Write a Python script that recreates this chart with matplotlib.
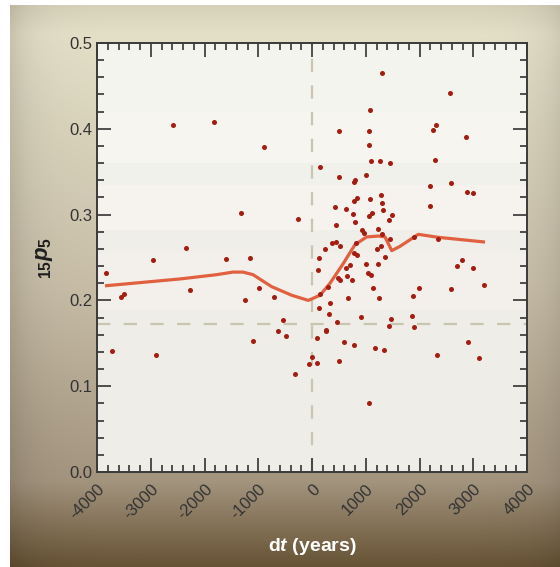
import numpy as np
import matplotlib
matplotlib.use('Agg')
import matplotlib.pyplot as plt
from matplotlib.ticker import MultipleLocator

plt.rcParams['font.family'] = ['Liberation Sans', 'DejaVu Sans']
plt.rcParams['axes.unicode_minus'] = False
plt.rcParams['mathtext.fontset'] = 'custom'
plt.rcParams['mathtext.rm'] = 'Liberation Sans'
plt.rcParams['mathtext.it'] = 'Liberation Sans:italic'
plt.rcParams['mathtext.bf'] = 'Liberation Sans:bold'
plt.rcParams['mathtext.bfit'] = 'Liberation Sans:italic:bold'

# scatter points: dt (years), 15p5
dt = [1302, 1079, 497, 1055, 1060, 1098, 1271, 1446, 149, 497,
      999, 806, 781, 1278, 832, 1085, 781, 422, 633, 1297,
      757, 1315, 1116, 1060, 1494, 1433, 794, 452, 1222, 925,
      973, 1308, 1457, 367, 447, 819, 515, 1284, 1215, 247,
      1898, 781, 843, 1358, 130, 999, 1222, 713, 627, 106,
      1042, 1103, 489, 527, 651, 750, 292, 1140, 1994, 154,
      679, 1241, 1875, 339, 125, 311, 460, 906, 1470, 1433,
      1866, 1903, 266, 266, 99, 595, 787, 1172, 1345, 4,
      -61, 93, 502, 1055,
      2567, 2246, 2307, 2865, 2283, 2590, 2201, 2889, 2995, 2192,
      2348, 2796, 2692, 2995, 2588, 3200, 2902, 2329, 3101,
      -266, -534, -489, -638, -307, -2586, -1818, -887, -1321, -2350,
      -2958, -1606, -1150, -3827, -3548, -3492, -2275, -1252, -982, -716,
      -3721, -2897, -1098]
p = [0.465, 0.422, 0.398, 0.398, 0.381, 0.362, 0.363, 0.360, 0.356, 0.344,
     0.346, 0.340, 0.338, 0.323, 0.319, 0.318, 0.316, 0.309, 0.307, 0.313,
     0.301, 0.305, 0.302, 0.298, 0.299, 0.294, 0.291, 0.288, 0.283, 0.282,
     0.278, 0.277, 0.271, 0.267, 0.268, 0.267, 0.263, 0.263, 0.260, 0.260,
     0.274, 0.255, 0.253, 0.251, 0.249, 0.243, 0.242, 0.241, 0.238, 0.235,
     0.232, 0.230, 0.226, 0.224, 0.228, 0.224, 0.216, 0.215, 0.214, 0.207,
     0.203, 0.203, 0.205, 0.197, 0.191, 0.184, 0.175, 0.181, 0.178, 0.170,
     0.182, 0.169, 0.166, 0.164, 0.156, 0.152, 0.148, 0.144, 0.142, 0.134,
     0.126, 0.127, 0.129, 0.081,
     0.442, 0.399, 0.405, 0.390, 0.364, 0.337, 0.333, 0.326, 0.325, 0.310,
     0.271, 0.247, 0.240, 0.238, 0.213, 0.218, 0.151, 0.136, 0.133,
     0.295, 0.177, 0.158, 0.164, 0.114, 0.404, 0.408, 0.379, 0.302, 0.261,
     0.247, 0.248, 0.249, 0.232, 0.204, 0.207, 0.212, 0.200, 0.215, 0.204,
     0.141, 0.136, 0.153]

# smoothed trend line
trend_x = [-3851, -2456, -1773, -1470, -1284, -1098, -750, -378, -69, 149,
           335, 582, 800, 1018, 1234, 1358, 1483, 1637, 1978, 2350, 3219]
trend_y = [0.217, 0.225, 0.230, 0.233, 0.233, 0.230, 0.216, 0.206, 0.200, 0.206,
           0.220, 0.243, 0.265, 0.274, 0.275, 0.274, 0.258, 0.263, 0.277, 0.2735, 0.268]

ref_p = 0.173

W, H = 560, 567
fig = plt.figure(figsize=(W / 100, H / 100), dpi=100)

# gradient frame behind the chart
bg = fig.add_axes([0, 0, 1, 1], zorder=-10)
rows = np.linspace(0, 1, H)
stops_t = [0.0, 0.06, 0.5, 0.85, 1.0]
stops_c = np.array([[212, 206, 182], [228, 224, 200], [200, 190, 168],
                    [163, 148, 126], [102, 82, 52]], dtype=float)
col = np.stack([np.interp(rows, stops_t, stops_c[:, k]) for k in range(3)], axis=1)
xs = np.arange(W)
shade = 1 - 0.13 * np.exp(-(xs - 10) / 22.0) - 0.10 * np.exp(-(W - xs) / 22.0)
img = col[:, None, :] * shade[None, :, None]
img = np.clip(img, 0, 255) / 255.0
img[:5, :, :] = 1.0
img[:, :10, :] = 1.0
bg.imshow(img, aspect='auto', extent=[0, 1, 0, 1])
bg.axis('off')

ax = fig.add_axes([97 / W, 1 - 472 / H, 430 / W, 429 / H])
ax.set_facecolor('#f1efea')
bands = [(0.42, 0.5, '#f4f4ee'), (0.36, 0.42, '#f6f5f0'), (0.335, 0.36, '#f1f1eb'),
         (0.282, 0.335, '#f6f2ee'), (0.255, 0.282, '#efeee8'), (0.19, 0.255, '#f3f0eb'),
         (0.0, 0.19, '#efede8')]
for lo, hi, c in bands:
    ax.axhspan(lo, hi, color=c, zorder=0, lw=0)

ax.axhline(ref_p, color='#c8c6ae', lw=1.6, dashes=(6, 6), zorder=1)
ax.axvline(0, color='#c8c6ae', lw=1.6, dashes=(6, 6), zorder=1)

ax.plot(trend_x, trend_y, color='#e0603f', lw=2.3, zorder=2, solid_capstyle='butt')
ax.scatter(dt, p, s=13, color='#a51c12', lw=0, zorder=3)

ax.set_xlim(-4000, 4000)
ax.set_ylim(0, 0.5)
ax.xaxis.set_major_locator(MultipleLocator(1000))
ax.xaxis.set_minor_locator(MultipleLocator(200))
ax.yaxis.set_major_locator(MultipleLocator(0.1))
ax.yaxis.set_minor_locator(MultipleLocator(0.02))
ax.tick_params(which='both', direction='in', top=True, right=True,
               color='#222222', width=1.1)
ax.tick_params(which='major', length=10, labelsize=12, labelcolor='#333333')
ax.tick_params(which='minor', length=5)
ax.tick_params(axis='x', pad=7)
for lbl in ax.get_xticklabels():
    lbl.set_rotation(45)
    lbl.set_ha('right')
    lbl.set_va('top')
    lbl.set_rotation_mode('anchor')
ax.set_yticks(np.arange(0, 0.51, 0.1))
ax.set_yticklabels(['0.0', '0.1', '0.2', '0.3', '0.4', '0.5'])
for s in ax.spines.values():
    s.set_color('#3a3a3a')
    s.set_linewidth(1.4)

ax.set_xlabel(r'd$\mathbfit{t}$ (years)', fontsize=14, fontweight='bold',
              color='white', labelpad=10)
ax.set_ylabel(r'$_{\mathbf{15}}\mathbfit{p}_{\mathbf{5}}$', fontsize=16,
              color='#1e1e1e', labelpad=10)

fig.savefig('out.png', dpi=100)
